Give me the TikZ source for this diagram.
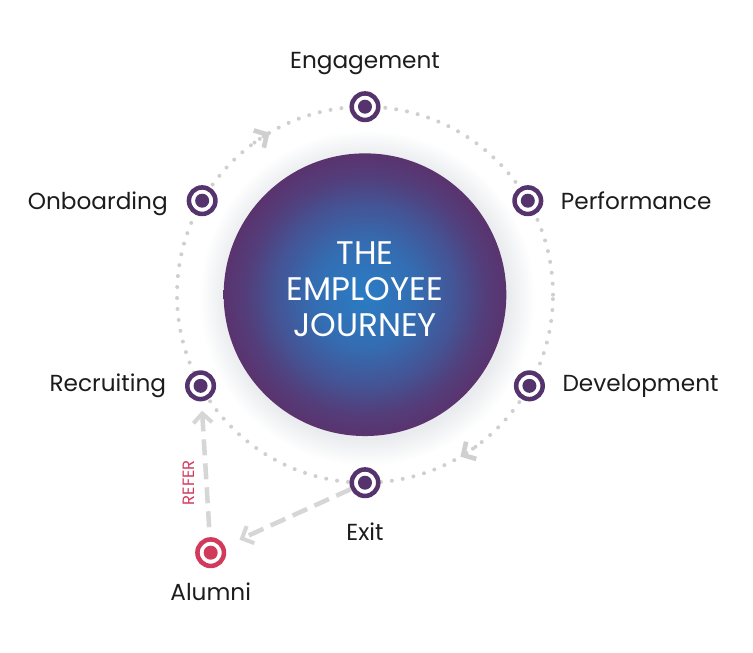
\documentclass[tikz,border=0pt]{standalone}
\usepackage{fontspec}
\setmainfont{Poppins}
\usetikzlibrary{positioning,arrows.meta}

\definecolor{stagepurple}{HTML}{55346E}
\definecolor{alumnired}{HTML}{D23A5C}
\definecolor{ringgray}{HTML}{CFCFCF}
\definecolor{dashgray}{HTML}{D6D6D6}
\definecolor{labelblack}{HTML}{1C1C1C}
\definecolor{coreblue}{HTML}{2A7CC4}
\definecolor{edgepurple}{HTML}{5A336E}
\definecolor{halogray}{HTML}{E9EBEE}

\pgfdeclareradialshading{journeyglow}{\pgfpoint{0bp}{0bp}}{%
  color(0bp)=(coreblue); color(9bp)=(coreblue!80!edgepurple);
  color(16bp)=(coreblue!45!edgepurple); color(21bp)=(coreblue!15!edgepurple);
  color(25bp)=(edgepurple); color(50bp)=(edgepurple)}
\pgfdeclareradialshading{hubhalo}{\pgfpoint{0bp}{0bp}}{%
  color(0bp)=(halogray); color(21bp)=(halogray);
  color(25bp)=(white); color(50bp)=(white)}

\tikzset{
  stage/.style={circle, draw=#1, fill=white, line width=3.4pt,
    minimum size=19.9pt, inner sep=0pt,
    path picture={\fill[#1] (path picture bounding box.center) circle (7);}},
  stage/.default=stagepurple,
  stagelabel/.style={text=labelblack, inner sep=0pt,
    font=\fontsize{17.4}{20}\selectfont, text height=12.5pt, text depth=3.5pt},
  hub/.style={circle, shading=journeyglow, minimum size=212pt, inner sep=0pt},
  hubtext/.style={text=white, align=center, inner sep=0pt,
    font=\fontsize{24.5}{26.8}\selectfont},
  ringdots/.style={draw=ringgray, line width=3pt, line cap=round,
    dash pattern=on 0pt off 8.25pt},
  ringtip/.style={-{Straight Barb[length=7pt, width=15pt, line width=3.5pt]}},
  referarrow/.style={draw=dashgray, line width=3.4pt,
    dash pattern=on 12pt off 6pt,
    -{Straight Barb[length=7pt, width=14pt, line width=3pt]}}
}

\begin{document}
\begin{tikzpicture}[x=0.75pt, y=0.75pt]
\useasboundingbox (-365,-358.3) rectangle (388,294.7);

% soft shadow behind the hub
\shade[shading=hubhalo] (2,-3) circle (168);

\node[hub] (journey) at (0,0) {};
\node[hubtext] (title) at ([yshift=4pt]journey.center) {THE\\EMPLOYEE\\JOURNEY};

% dotted cycle
\draw[ringdots] (journey.center) circle (188);
\draw[ringdots, ringtip] (126:188) arc (126:120.5:188);
\draw[ringdots, ringtip] (-54:188) arc (-54:-59.5:188);

% stages
\node[stage] (eng) at (90:188) {};
\node[stage] (perf) at (30:188) {};
\node[stage] (dev) at (-29:188) {};
\node[stage] (exit) at (-90:188) {};
\node[stage] (recr) at (209:188) {};
\node[stage] (onb) at (150:188) {};
\node[stage=alumnired] (alumni) at (-154.3,-258) {};

\node[stagelabel, above=13pt of eng] (englabel) {Engagement};
\node[stagelabel, right=13pt of perf, yshift=-2pt] (perflabel) {Performance};
\node[stagelabel, right=13pt of dev] (devlabel) {Development};
\node[stagelabel, below=19pt of exit] (exitlabel) {Exit};
\node[stagelabel, below=11.5pt of alumni] (alumnilabel) {Alumni};
\node[stagelabel, left=14pt of recr] (recrlabel) {Recruiting};
\node[stagelabel, left=14pt of onb, yshift=-2pt] (onblabel) {Onboarding};

% alumni loop
\draw[referarrow, shorten >=12pt] (exit) -- (alumni);
\draw[referarrow, shorten <=7.5pt, shorten >=7pt] (alumni) -- (recr)
  node[pos=0.4, anchor=south, rotate=90, inner sep=0pt, outer sep=9pt,
    text=alumnired, font=\fontsize{12.3}{14}\selectfont] (referlabel) {REFER};
\end{tikzpicture}
\end{document}
